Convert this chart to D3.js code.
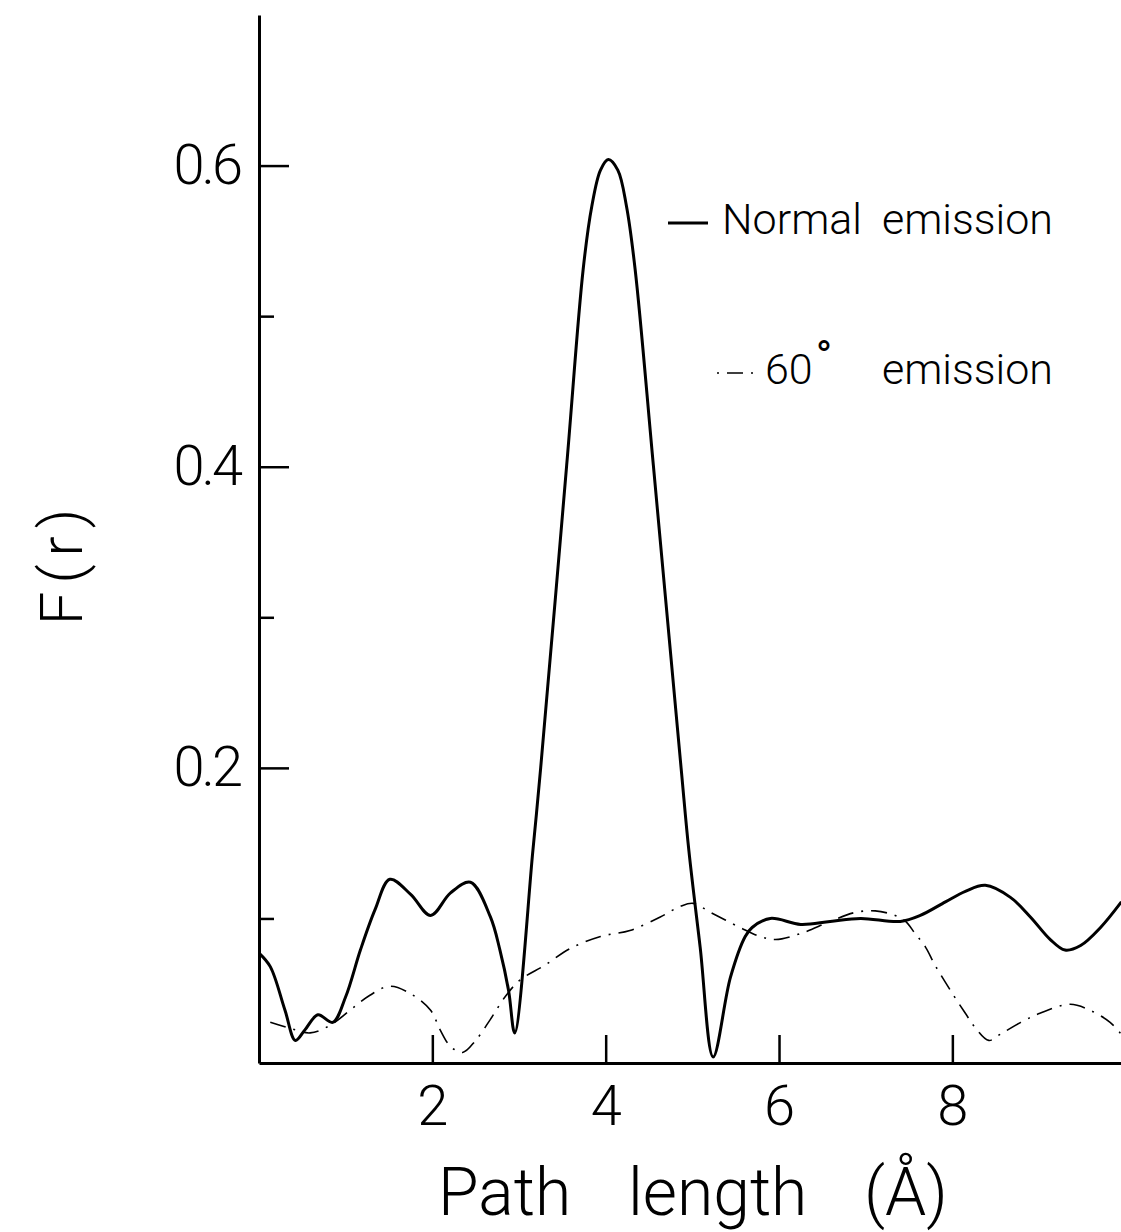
<!DOCTYPE html>
<html>
<head>
<meta charset="utf-8">
<script src="https://cdn.jsdelivr.net/npm/d3@7"></script>
<style>
  body { margin: 0; background: #fff; }
  svg { display: block; }
  text { font-family: "Roboto", "Liberation Sans", sans-serif; font-weight: 300; fill: #000; }
</style>
</head>
<body>
<div id="chart"></div>
<script>
// Path length (Angstrom) and F(r)
var normalX = [0.0, 0.13, 0.30, 0.42, 0.53, 0.68, 0.85, 1.00, 1.17, 1.34, 1.51, 1.75, 1.98, 2.21, 2.44, 2.67, 2.78, 2.88, 2.95, 3.16, 3.25, 3.55, 3.74, 3.84, 3.94, 4.03, 4.14, 4.24, 4.34, 4.55, 4.87, 4.96, 5.09, 5.24, 5.44, 5.61, 5.69, 5.90, 6.25, 6.59, 6.94, 7.40, 7.63, 7.92, 8.15, 8.38, 8.67, 8.90, 9.13, 9.30, 9.48, 9.71, 9.95];
var normalF = [0.077, 0.068, 0.039, 0.019, 0.026, 0.036, 0.031, 0.048, 0.079, 0.106, 0.126, 0.116, 0.102, 0.117, 0.124, 0.101, 0.079, 0.052, 0.024, 0.145, 0.200, 0.401, 0.531, 0.573, 0.597, 0.604, 0.597, 0.573, 0.531, 0.401, 0.200, 0.145, 0.081, 0.008, 0.061, 0.088, 0.094, 0.100, 0.096, 0.098, 0.100, 0.098, 0.102, 0.111, 0.118, 0.122, 0.114, 0.101, 0.086, 0.079, 0.082, 0.094, 0.111];

var sixtyX = [0.13, 0.36, 0.59, 0.82, 1.05, 1.28, 1.51, 1.75, 1.98, 2.09, 2.21, 2.35, 2.50, 2.67, 2.84, 3.01, 3.30, 3.59, 3.94, 4.28, 4.63, 4.86, 5.01, 5.21, 5.55, 5.78, 5.96, 6.25, 6.59, 6.88, 7.11, 7.34, 7.46, 7.57, 7.69, 7.80, 7.98, 8.15, 8.27, 8.42, 8.55, 8.79, 9.01, 9.36, 9.59, 9.82, 9.95];
var sixtyF = [0.031, 0.027, 0.024, 0.029, 0.039, 0.049, 0.055, 0.050, 0.039, 0.026, 0.015, 0.011, 0.019, 0.033, 0.048, 0.059, 0.069, 0.080, 0.088, 0.092, 0.101, 0.108, 0.110, 0.104, 0.094, 0.088, 0.086, 0.090, 0.098, 0.104, 0.105, 0.102, 0.098, 0.090, 0.081, 0.069, 0.052, 0.037, 0.027, 0.019, 0.023, 0.031, 0.037, 0.043, 0.039, 0.031, 0.023];

// tick values
var xTicks = [2, 4, 6, 8];
var yMajorTicks = [0.2, 0.4, 0.6];
var yMinorTicks = [0.1, 0.3, 0.5];

var svgWidth = 1121;
var svgHeight = 1232;

var margin = {
    top: 15,
    left: 259,
    bottom: 169
};

var chartHeight = svgHeight - margin.top - margin.bottom;

var svg = d3.select("#chart")
    .append("svg")
    .attr("width", svgWidth)
    .attr("height", svgHeight);

var chartGroup = svg.append("g")
    .attr("transform", `translate(${margin.left}, ${margin.top})`);

// scales (axis runs past the right edge of the page)
var xScale = d3.scaleLinear()
    .domain([0, 10])
    .range([0, 866.7]);

var yScale = d3.scaleLinear()
    .domain([0.004, 0.7])
    .range([chartHeight, 0]);

// bottom axis, ticks point up
var bottomAxis = d3.axisBottom(xScale)
    .tickValues(xTicks)
    .tickSizeInner(-28)
    .tickSizeOuter(0)
    .tickPadding(22)
    .tickFormat(d3.format("d"));

var xAxis = chartGroup.append("g")
    .attr("transform", `translate(0, ${chartHeight})`)
    .call(bottomAxis);

xAxis.select(".domain").attr("stroke-width", 3);
xAxis.selectAll(".tick line").attr("stroke-width", 2.5);
xAxis.selectAll("text")
    .style("font-size", "56px")
    .attr("fill", "#000");

// left axis, major ticks with labels
var leftAxis = d3.axisLeft(yScale)
    .tickValues(yMajorTicks)
    .tickSizeInner(-30)
    .tickSizeOuter(0)
    .tickPadding(19)
    .tickFormat(d3.format(".1f"));

var yAxis = chartGroup.append("g")
    .call(leftAxis);

yAxis.select(".domain").attr("stroke-width", 3);
yAxis.selectAll(".tick line").attr("stroke-width", 2.5);
yAxis.selectAll("text")
    .style("font-size", "56px")
    .style("letter-spacing", "-3px")
    .attr("fill", "#000");

// minor ticks on y
var minorAxis = d3.axisLeft(yScale)
    .tickValues(yMinorTicks)
    .tickSizeInner(-15)
    .tickSizeOuter(0)
    .tickFormat("");

var yMinor = chartGroup.append("g")
    .call(minorAxis);
yMinor.select(".domain").remove();
yMinor.selectAll(".tick line").attr("stroke-width", 2.5);

// curves
var normalData = normalX.map((d, i) => ({ x: d, y: normalF[i] }));
var sixtyData = sixtyX.map((d, i) => ({ x: d, y: sixtyF[i] }));

var lineGen = d3.line()
    .x(d => xScale(d.x))
    .y(d => yScale(d.y))
    .curve(d3.curveCatmullRom.alpha(0.5));

chartGroup.append("path")
    .datum(sixtyData)
    .attr("d", lineGen)
    .attr("fill", "none")
    .attr("stroke", "#000")
    .attr("stroke-width", 1.6)
    .attr("stroke-dasharray", "16,8,2,8");

chartGroup.append("path")
    .datum(normalData)
    .attr("d", lineGen)
    .attr("fill", "none")
    .attr("stroke", "#000")
    .attr("stroke-width", 3)
    .attr("stroke-linejoin", "round");

// legend
var legend = svg.append("g");

legend.append("line")
    .attr("x1", 668).attr("x2", 708)
    .attr("y1", 223).attr("y2", 223)
    .attr("stroke", "#000")
    .attr("stroke-width", 3);

var leg1 = legend.append("text")
    .attr("x", 722)
    .attr("y", 234)
    .style("font-size", "43px");
leg1.append("tspan").text("Normal");
leg1.append("tspan").attr("x", 882).text("emission");

legend.append("line")
    .attr("x1", 717).attr("x2", 754)
    .attr("y1", 373).attr("y2", 373)
    .attr("stroke", "#000")
    .attr("stroke-width", 1.6)
    .attr("stroke-dasharray", "2,8,16,8");

var leg2 = legend.append("text")
    .attr("x", 765)
    .attr("y", 384)
    .style("font-size", "43px");
leg2.append("tspan").text("60");
leg2.append("tspan")
    .attr("dx", 3)
    .attr("dy", -12)
    .style("font-size", "44px")
    .style("font-weight", 400)
    .text("°");
leg2.append("tspan").attr("x", 882).attr("y", 384).text("emission");

// axis titles
var xTitle = svg.append("text")
    .attr("y", 1215)
    .style("font-size", "66px");
xTitle.append("tspan").attr("x", 438).text("Path");
xTitle.append("tspan").attr("x", 628).text("length");
xTitle.append("tspan").attr("x", 864).text("(Å)");

svg.append("text")
    .attr("transform", "translate(82, 563) rotate(-90)")
    .attr("text-anchor", "middle")
    .style("font-size", "60px")
    .style("letter-spacing", "8px")
    .text("F(r)");
</script>
</body>
</html>
